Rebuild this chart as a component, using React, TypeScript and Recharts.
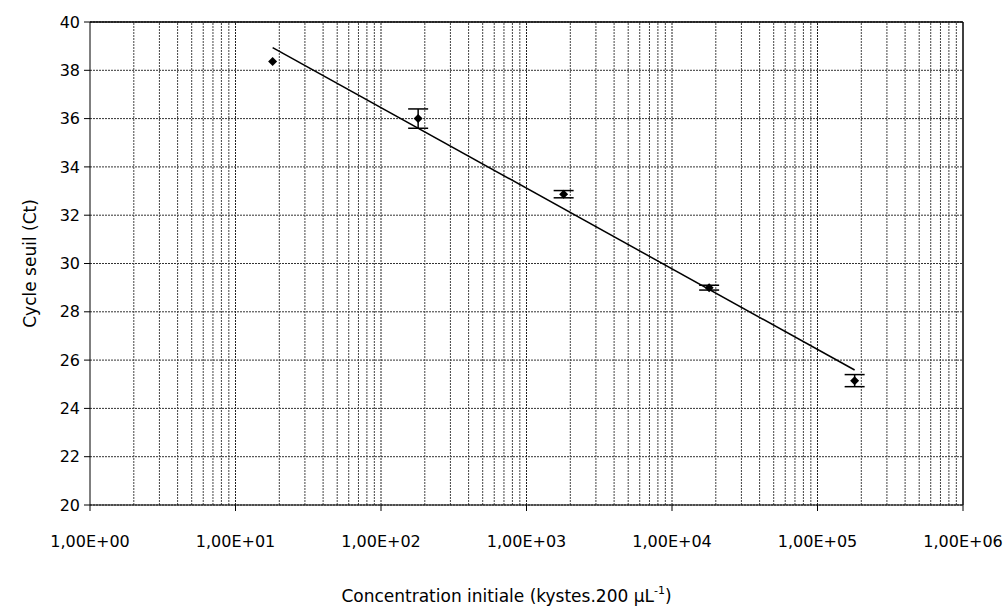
import React from 'react'
import {
    ComposedChart,
    Scatter,
    Line,
    XAxis,
    YAxis,
    CartesianGrid,
    ErrorBar,
    ReferenceLine,
} from 'recharts'

// initial concentration (kystes / 200 uL) and measured Ct
const concentrations = [18, 180, 1800, 18000, 180000]
const ctMean = [38.36, 36.0, 32.87, 29.0, 25.15]
const ctSd = [0, 0.4, 0.15, 0.1, 0.25]

// linear fit (Ct vs log10 concentration), end points
const trendX = [18, 180000]
const trendY = [38.94, 25.59]

const xTicks = [1, 10, 100, 1000, 10000, 100000, 1000000]
const yTicks = [20, 22, 24, 26, 28, 30, 32, 34, 36, 38, 40]

// log minor grid: 2..9 in every decade
const minorX: number[] = []
for (let d = 0; d < 6; d++) {
    for (let k = 2; k < 10; k++) minorX.push(k * Math.pow(10, d))
}

const points = concentrations.map((x, i) => ({ x, y: ctMean[i], err: ctSd[i] }))
const trend = trendX.map((x, i) => ({ x, y: trendY[i] }))

const FONT = '"DejaVu Sans", sans-serif'

const fmtTick = (v: number) => {
    const e = Math.round(Math.log10(v))
    return `1,00E+${String(e).padStart(2, '0')}`
}

const Diamond = (props: any) => {
    const { cx, cy } = props
    if (cx == null || cy == null) return null
    const r = 4.5
    return (
        <path
            d={`M${cx},${cy - r}L${cx + r},${cy}L${cx},${cy + r}L${cx - r},${cy}Z`}
            fill="#000"
        />
    )
}

const YTitle = (props: any) => {
    const vb = props.viewBox
    const x = vb.x + 30
    const y = vb.y + vb.height / 2
    return (
        <text
            x={x}
            y={y}
            transform={`rotate(-90, ${x}, ${y})`}
            textAnchor="middle"
            dominantBaseline="central"
            fontFamily={FONT}
            fontSize={17}
            fill="#000"
        >
            Cycle seuil (Ct)
        </text>
    )
}

const XTitle = (props: any) => {
    const vb = props.viewBox
    const x = vb.x + vb.width / 2 - 20
    const y = vb.y + 97
    return (
        <text x={x} y={y} textAnchor="middle" fontFamily={FONT} fontSize={17} fill="#000">
            Concentration initiale (kystes.200 µL
            <tspan fontSize={11} dy={-8}>-1</tspan>
            <tspan dy={8}>)</tspan>
        </text>
    )
}

const App = () => {
    return (
        <div style={{ position: 'absolute', left: 0, top: 0, width: 1007, height: 610, background: '#fff' }}>
            <ComposedChart
                width={1007}
                height={610}
                margin={{ top: 22, right: 44, bottom: 0, left: 0 }}
            >
                <CartesianGrid stroke="#333" strokeDasharray="2 1" vertical={false} />
                {minorX.map((v) => (
                    <ReferenceLine key={v} x={v} stroke="#444" strokeDasharray="2 1" />
                ))}
                {xTicks.slice(1, -1).map((v) => (
                    <ReferenceLine key={'d' + v} x={v} stroke="#222" strokeDasharray="2 1" />
                ))}
                <XAxis
                    dataKey="x"
                    type="number"
                    scale="log"
                    domain={[1, 1000000]}
                    ticks={xTicks}
                    tickFormatter={fmtTick}
                    allowDataOverflow
                    height={105}
                    tickSize={6}
                    tickMargin={25}
                    stroke="#000"
                    tick={{ fill: '#000', fontSize: 16, fontFamily: FONT }}
                    label={<XTitle />}
                />
                <YAxis
                    type="number"
                    domain={[20, 40]}
                    ticks={yTicks}
                    width={90}
                    tickSize={6}
                    tickMargin={4}
                    stroke="#000"
                    tick={{ fill: '#000', fontSize: 16, fontFamily: FONT }}
                    label={<YTitle />}
                />
                <ReferenceLine y={40} stroke="#000" strokeWidth={1.5} />
                <ReferenceLine x={1000000} stroke="#000" strokeWidth={1.5} />
                <Line
                    data={trend}
                    dataKey="y"
                    type="linear"
                    stroke="#000"
                    strokeWidth={1.5}
                    dot={false}
                    activeDot={false}
                    isAnimationActive={false}
                />
                <Scatter
                    data={points}
                    dataKey="y"
                    shape={<Diamond />}
                    isAnimationActive={false}
                >
                    <ErrorBar
                        dataKey="err"
                        direction="y"
                        width={10}
                        stroke="#000"
                        strokeWidth={1.5}
                        isAnimationActive={false}
                    />
                </Scatter>
            </ComposedChart>
        </div>
    )
}

export default App
